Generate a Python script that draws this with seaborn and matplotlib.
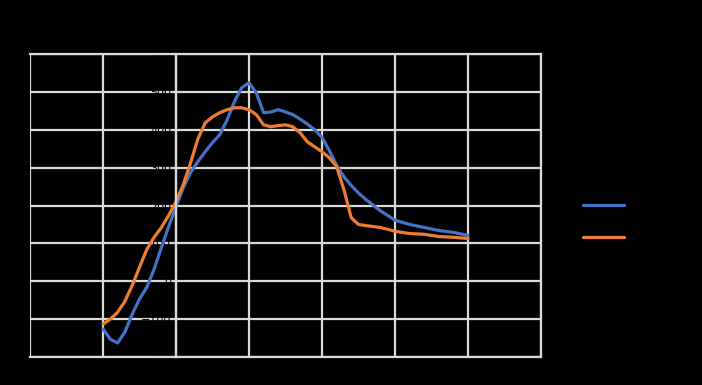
import matplotlib
matplotlib.use('Agg')
import matplotlib.pyplot as plt
import pandas as pd
import seaborn as sns

# values
x_blue = [-1.0, -0.9, -0.8, -0.7, -0.6, -0.5, -0.4, -0.3, -0.2, -0.1, 0.0, 0.1, 0.2, 0.3, 0.4, 0.5,
          0.6, 0.7, 0.8, 0.9, 1.0, 1.1, 1.2, 1.3, 1.4, 1.5, 1.6, 1.7, 1.8, 1.9, 2.0, 2.1, 2.2,
          2.3, 2.4, 2.5, 2.6, 2.8, 3.0, 3.2, 3.4, 3.6, 3.8, 4.0]
y_blue = [-126, -153, -163, -134, -87, -47, -16, 32, 89, 145, 197, 247, 287, 316, 342, 366,
          387, 426, 474, 511, 524, 497, 445, 447, 453, 447, 440, 428, 415, 400, 380, 345, 306,
          276, 253, 233, 216, 186, 161, 150, 142, 134, 129, 121]
x_orange = x_blue
y_orange = [-113, -100, -82, -53, -11, 37, 84, 116, 142, 174, 210, 255, 313, 376, 418, 434,
            445, 453, 458, 458, 453, 440, 413, 408, 411, 413, 408, 392, 368, 355, 342, 326, 303,
            242, 168, 150, 147, 142, 132, 126, 124, 118, 116, 113]
series_names = ['Series1', 'Series2']
x_ticks = [-2, -1, 0, 1, 2, 3, 4, 5]
y_ticks = [-200, -100, 0, 100, 200, 300, 400, 500, 600]

df = pd.concat([
    pd.DataFrame({'x': x_blue, 'y': y_blue, 'series': series_names[0]}),
    pd.DataFrame({'x': x_orange, 'y': y_orange, 'series': series_names[1]}),
])

sns.set_style('white')
fig = plt.figure(figsize=(7.02, 3.85), dpi=100, facecolor='black')
ax = fig.add_axes([30 / 702, 28 / 385, 511 / 702, 303 / 385])
ax.set_facecolor('black')

sns.lineplot(data=df, x='x', y='y', hue='series', sort=False,
             palette=['#4472C4', '#ED7D31'], linewidth=2.3, ax=ax)

ax.set_xlim(-2, 5)
ax.set_ylim(-200, 600)
ax.set_xticks(x_ticks)
ax.set_yticks(y_ticks)
ax.grid(True, color='#d9d9d9', linewidth=1.6)
ax.set_axisbelow(True)
for s in ax.spines.values():
    s.set_color('#d9d9d9')
    s.set_linewidth(1.6)
# vertical axis crosses at x = 0, like the original
ax.spines['left'].set_position(('data', 0))
ax.tick_params(length=0, colors='black', labelsize=8)
ax.set_xlabel('')
ax.set_ylabel('')

leg = ax.legend(loc='center left', bbox_to_anchor=(1.06, 0.447), frameon=False,
                handlelength=3.3, labelspacing=1.5, fontsize=9)
for t in leg.get_texts():
    t.set_color('black')
for h in leg.get_lines():
    h.set_linewidth(2.3)

fig.savefig('out.png', dpi=100, facecolor='black')
